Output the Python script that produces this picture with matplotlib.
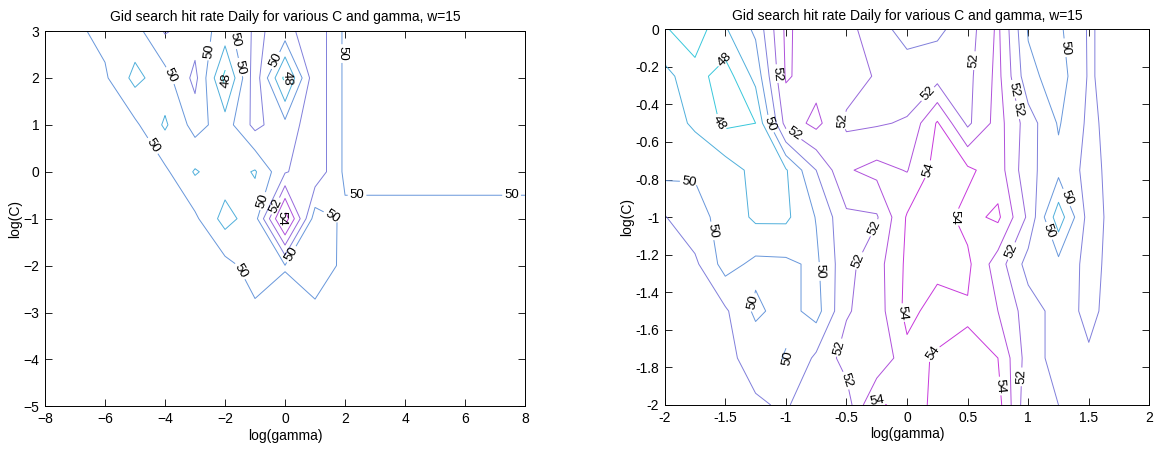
import matplotlib
matplotlib.use("Agg")
import matplotlib.pyplot as plt
from matplotlib.colors import ListedColormap, Normalize
import numpy as np

# grid of the search: log(gamma) across, log(C) down
gamma_a = np.arange(-8, 9, 1)
logc_a = np.array([3, 2, 1, 0, -1, -2, -3, -4, -5])
b, u, w = 50.2, 49.8, 51.74
hit_a = np.array([
    [b, b, 49.7, 49.6, 51.1, 50.5, 49.6, 51.2, 50.6, w, u, u, u, u, u, u, u],
    [b, b, 50.15, 48.7, 49.6, 51.3, 47.7, 51.6, 47.7, w, u, u, u, u, u, u, u],
    [b, b, b, 50.2, 48.85, 50.4, 49.5, 51.3, 50.3, w, u, u, u, u, u, u, u],
    [b, b, b, b, 50.2, 48.9, 49.6, 48.9, 50.9, w, u, u, u, u, u, u, u],
    [b, b, b, b, b, b, 48.6, 49.6, 54.6, 49.45, b, b, b, b, b, b, b],
    [b, b, b, b, b, b, 50.35, 49.53, 49.97, 49.5, b, b, b, b, b, b, b],
    [b] * 17,
    [b] * 17,
    [b] * 17,
])

gamma_b = np.arange(-2, 2.01, 0.25)
logc_b = np.arange(0, -2.01, -0.25)
hit_b = np.array([
    [48.1, 47.4, 48.9, 50.2, 53.2, 52.3, 52.4, 51.3, 50.7, 50.8, 51.5, 53.2, 49.9, 49.8, 51.1, 50.6, 50.6],
    [49.3, 48.4, 47.5, 49.3, 53.1, 52.6, 52.5, 51.9, 51.4, 51.6, 51.7, 53.3, 50.3, 49.5, 51.1, 50.6, 50.6],
    [49.6, 48.8, 47.8, 48.0, 52.4, 53.3, 51.8, 51.9, 52.1, 54.1, 51.8, 53.4, 51.5, 49.9, 51.2, 50.6, 50.6],
    [49.7, 49.9, 49.5, 48.7, 48.9, 51.0, 52.9, 53.3, 52.95, 54.4, 54.2, 53.5, 51.3, 50.3, 51.3, 50.6, 50.6],
    [51.05, 50.3, 49.7, 48.8, 48.8, 50.05, 51.8, 51.9, 54.1, 54.4, 53.7, 54.2, 51.8, 48.4, 51.4, 50.6, 50.6],
    [51.3, 51.2, 49.6, 50.25, 50.2, 49.8, 51.7, 52.6, 54.2, 54.3, 54.2, 52.5, 50.6, 50.3, 51.3, 50.6, 50.6],
    [51.4, 51.3, 51.15, 49.8, 50.4, 49.6, 51.9, 52.5, 54.3, 53.6, 53.9, 53.0, 51.5, 50.6, 51.2, 50.6, 50.6],
    [51.5, 51.4, 51.2, 50.7, 49.9, 51.2, 52.4, 52.1, 53.7, 54.1, 54.2, 54.0, 51.5, 50.6, 50.9, 50.6, 50.6],
    [51.5, 51.4, 51.3, 51.1, 50.9, 51.6, 51.5, 54.2, 53.6, 54.2, 54.4, 54.4, 51.2, 51.0, 50.8, 50.6, 50.6],
])

labeled = [48, 50, 52, 54]
unlabeled = [47, 49, 51, 53, 55]
title = 'Gid search hit rate Daily for various C and gamma, w=15'

# where the contour values are written on each panel
labels_a = [(-1.74, 1.92), (0.18, 1.99),
            (-1.68, 2.81), (-3.24, 2.63), (-4.08, 1.96), (-1.14, 2.28), (-0.24, 2.35),
            (1.86, 2.52), (-4.44, 0.54), (-0.87, -0.6), (1.56, -0.95), (0.24, -1.77),
            (-1.62, -2.16), (2.4, -0.48), (7.55, -0.48),
            (-0.42, -0.7), (-0.24, -0.95)]
labels_b = [(-1.52, -0.15), (-1.55, -0.5),
            (-1.79, -0.7), (-1.15, -0.51), (0.95, -0.31), (1.28, -0.1), (1.3, -0.9),
            (1.1, -1.09), (-1.48, -1.06), (-1.3, -1.45), (-0.75, -1.29), (-0.95, -1.75),
            (-0.97, -0.59), (-0.72, -0.22), (-0.51, -0.49), (0.08, -0.29), (0.62, -0.17),
            (0.83, -0.44), (0.75, -1.15), (-0.26, -1.06), (-0.5, -1.2), (-0.53, -1.7),
            (-0.29, -1.84), (0.93, -1.85),
            (0.21, -0.75), (0.36, -1.0), (-0.05, -1.51), (0.26, -1.75), (-0.27, -1.96),
            (0.75, -1.9)]

# muted "cool" colour map
cool = plt.get_cmap('cool')(np.linspace(0, 1, 256))
grey = np.array([0.5, 0.5, 0.6, 1.0])
muted = ListedColormap(0.65 * cool + 0.35 * grey)
norm = Normalize(47.5, 54.5)

plt.rcParams['font.family'] = 'Liberation Sans'
plt.rcParams['font.size'] = 10

fig = plt.figure(figsize=(11.54, 4.5), dpi=100)
ax1 = fig.add_axes([0.039, 0.097, 0.416, 0.834])
ax2 = fig.add_axes([0.576, 0.1, 0.420, 0.835])


def draw(ax, gx, gy, z, pts, xlim, ylim, xt, yt):
    ax.contour(gx, gy, z, levels=unlabeled, cmap=muted, norm=norm, linewidths=0.7)
    cs = ax.contour(gx, gy, z, levels=labeled, cmap=muted, norm=norm, linewidths=0.7)
    ax.clabel(cs, fmt='%d', fontsize=9.5, colors='k', inline=True,
              inline_spacing=2, manual=pts)
    ax.set_xlim(xlim)
    ax.set_ylim(ylim)
    ax.set_xticks(xt)
    ax.set_yticks(yt)
    ax.tick_params(direction='in', top=True, right=True, length=5, width=0.6, pad=4)
    for s in ax.spines.values():
        s.set_linewidth(0.7)
    ax.set_title(title, fontsize=10, pad=7)
    ax.set_xlabel('log(gamma)', labelpad=2)
    ax.set_ylabel('log(C)', labelpad=1)


draw(ax1, gamma_a, logc_a, hit_a, labels_a, (-8, 8), (-5, 3),
     np.arange(-8, 9, 2), np.arange(-5, 4, 1))
draw(ax2, gamma_b, logc_b, hit_b, labels_b, (-2, 2), (-2, 0),
     np.arange(-2, 2.1, 0.5), np.arange(-2, 0.01, 0.2))
ax2.set_xticklabels(['-2', '-1.5', '-1', '-0.5', '0', '0.5', '1', '1.5', '2'])
ax2.set_yticklabels(['-2', '-1.8', '-1.6', '-1.4', '-1.2', '-1', '-0.8', '-0.6', '-0.4', '-0.2', '0'])

fig.savefig('out.png', dpi=100)
